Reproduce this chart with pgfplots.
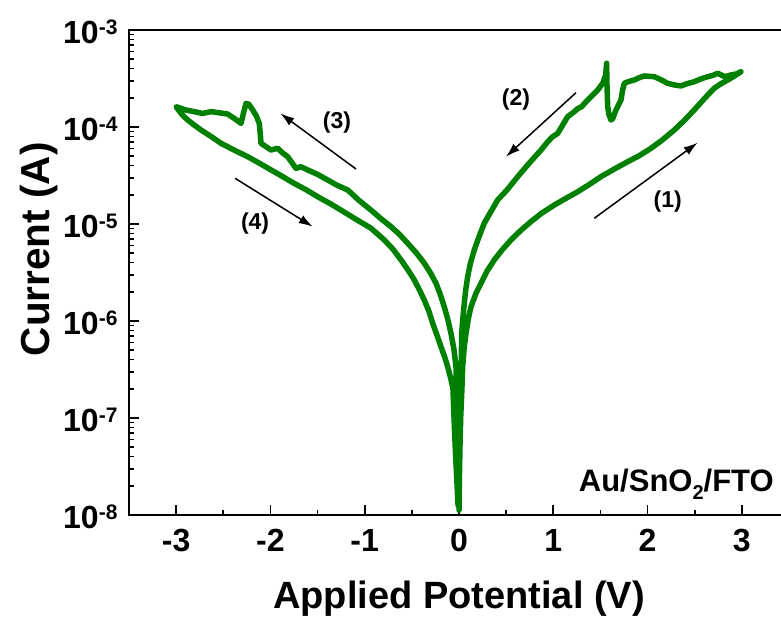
\documentclass[border=0pt]{standalone}
\usepackage{fontspec}
\setmainfont{Liberation Sans}
\usepackage{pgfplots}
\pgfplotsset{compat=1.18}
\usetikzlibrary{arrows.meta}
\definecolor{cgreen}{RGB}{0,128,0}
\newcommand\supx[1]{\raisebox{9.5pt}{\fontsize{21}{21}\selectfont #1}}
\newcommand\subx[1]{\raisebox{-8pt}{\fontsize{20}{20}\selectfont #1}}
\begin{document}
\begin{tikzpicture}
\begin{axis}[
  at={(0,0)}, anchor=south west,
  scale only axis, width=660pt, height=485pt,
  xmin=-3.5, xmax=3.5, ymode=log, ymin=1e-8, ymax=1e-3,
  xtick={-3,-2,-1,0,1,2,3},
  xticklabels={-3,-2,-1,0,1,2,3},
  minor xtick={-3.5,-2.5,-1.5,-0.5,0.5,1.5,2.5},
  ytick={1e-8,1e-7,1e-6,1e-5,1e-4,1e-3},
  yticklabels={10\supx{-8},10\supx{-7},10\supx{-6},10\supx{-5},10\supx{-4},10\supx{-3}},
  minor ytick={2e-8,3e-8,4e-8,5e-8,6e-8,7e-8,8e-8,9e-8,
               2e-7,3e-7,4e-7,5e-7,6e-7,7e-7,8e-7,9e-7,
               2e-6,3e-6,4e-6,5e-6,6e-6,7e-6,8e-6,9e-6,
               2e-5,3e-5,4e-5,5e-5,6e-5,7e-5,8e-5,9e-5,
               2e-4,3e-4,4e-4,5e-4,6e-4,7e-4,8e-4,9e-4},
  xtick pos=bottom, ytick pos=left,
  tick align=inside,
  major tick length=10pt, minor tick length=5.5pt,
  axis line style={line width=1.6pt},
  tick style={black, line width=1.6pt},
  minor tick style={black, line width=1.6pt},
  tick label style={font=\fontsize{32}{38}\selectfont\bfseries},
  xticklabel style={yshift=-11pt},
  yticklabel style={xshift=-8pt, yshift=-2pt},
  xlabel={Applied Potential (V)},
  ylabel={Current (A)},
  xlabel style={at={(axis description cs:0.5,-0.1918)}, anchor=base, font=\fontsize{38}{44}\selectfont\bfseries},
  ylabel style={at={(axis description cs:-0.1197,0.548)}, anchor=base, rotate=0, font=\fontsize{40.5}{46}\selectfont\bfseries},
]
\addplot[cgreen, line width=5.5pt, line join=round, line cap=round] coordinates {
% (1) 0 -> 3 V
(0.000,1.12e-8) (0.003,2.0e-8) (0.010,5.0e-8) (0.018,1.02e-7) (0.030,1.90e-7)
(0.039,3.38e-7) (0.055,5.3e-7) (0.074,7.46e-7) (0.100,1.07e-6) (0.127,1.40e-6)
(0.180,1.93e-6) (0.233,2.45e-6) (0.300,3.30e-6) (0.374,4.26e-6) (0.460,5.45e-6)
(0.551,6.84e-6) (0.650,8.5e-6) (0.764,1.06e-5) (0.880,1.30e-5) (1.011,1.57e-5)
(1.130,1.83e-5) (1.259,2.15e-5) (1.380,2.55e-5) (1.506,3.08e-5) (1.650,3.70e-5)
(1.789,4.39e-5) (1.910,5.05e-5) (2.036,6.03e-5) (2.160,7.4e-5) (2.283,9.31e-5)
(2.390,1.17e-4) (2.495,1.50e-4) (2.600,1.95e-4) (2.707,2.51e-4) (2.780,2.80e-4)
(2.849,3.05e-4) (2.930,3.40e-4) (2.990,3.72e-4)
% (2) 3 -> 0 V
(2.940,3.52e-4) (2.884,3.44e-4) (2.820,3.30e-4) (2.743,3.58e-4) (2.690,3.40e-4)
(2.637,3.30e-4) (2.560,3.12e-4) (2.495,2.93e-4) (2.420,2.80e-4) (2.354,2.65e-4)
(2.280,2.72e-4) (2.213,2.82e-4) (2.140,3.08e-4) (2.071,3.30e-4) (1.965,3.36e-4)
(1.910,3.22e-4) (1.859,3.05e-4) (1.800,2.95e-4) (1.753,2.82e-4) (1.735,2.40e-4)
(1.718,1.90e-4) (1.665,1.50e-4) (1.630,1.22e-4) (1.612,1.18e-4) (1.590,1.35e-4)
(1.577,1.62e-4) (1.568,3.00e-4) (1.566,4.54e-4) (1.555,3.40e-4) (1.524,2.82e-4)
(1.471,2.40e-4) (1.420,2.15e-4) (1.365,1.90e-4) (1.300,1.62e-4) (1.260,1.55e-4)
(1.223,1.44e-4) (1.153,1.28e-4) (1.100,1.05e-4) (1.047,8.61e-5) (0.990,7.9e-5)
(0.941,7.05e-5) (0.870,5.79e-5) (0.750,4.30e-5) (0.623,3.08e-5) (0.510,2.25e-5)
(0.410,1.77e-5) (0.330,1.30e-5) (0.268,1.02e-5) (0.210,7.3e-6) (0.162,5.40e-6)
(0.120,3.9e-6) (0.092,2.86e-6) (0.070,2.05e-6) (0.056,1.52e-6) (0.040,1.05e-6)
(0.029,7.46e-7)
% (3) 0 -> -3 V
(-0.003,1.3e-8) (-0.015,3.98e-8) (-0.025,1.20e-7) (-0.032,3.38e-7) (-0.055,5.2e-7)
(-0.085,7.46e-7) (-0.120,1.05e-6) (-0.156,1.40e-6) (-0.200,1.90e-6) (-0.244,2.45e-6)
(-0.300,3.10e-6) (-0.368,3.94e-6) (-0.450,5.0e-6) (-0.544,6.32e-6) (-0.630,7.8e-6)
(-0.721,9.38e-6) (-0.830,1.14e-5) (-0.933,1.39e-5) (-1.060,1.75e-5) (-1.180,2.24e-5)
(-1.290,2.50e-5) (-1.392,2.84e-5) (-1.500,3.25e-5) (-1.605,3.61e-5) (-1.680,3.90e-5)
(-1.729,3.75e-5) (-1.780,4.40e-5) (-1.817,4.94e-5) (-1.870,5.40e-5) (-1.923,6.03e-5)
(-1.994,5.79e-5) (-2.060,6.40e-5) (-2.100,6.79e-5) (-2.110,9.0e-5) (-2.118,1.09e-4)
(-2.150,1.30e-4) (-2.188,1.50e-4) (-2.230,1.72e-4) (-2.259,1.75e-4) (-2.285,1.40e-4)
(-2.312,1.09e-4) (-2.380,1.22e-4) (-2.453,1.36e-4) (-2.540,1.40e-4) (-2.630,1.44e-4)
(-2.720,1.38e-4) (-2.807,1.44e-4) (-2.900,1.50e-4) (-3.001,1.62e-4)
% (4) -3 -> 0 V
(-2.940,1.35e-4) (-2.877,1.18e-4) (-2.810,1.05e-4) (-2.736,9.31e-5) (-2.630,8.0e-5)
(-2.524,6.79e-5) (-2.380,5.75e-5) (-2.241,4.94e-5) (-2.120,4.25e-5) (-1.994,3.61e-5)
(-1.870,3.08e-5) (-1.747,2.62e-5) (-1.620,2.25e-5) (-1.498,1.91e-5) (-1.370,1.63e-5)
(-1.251,1.39e-5) (-1.100,1.13e-5) (-0.933,9.04e-6) (-0.792,6.84e-6) (-0.700,5.5e-6)
(-0.615,4.26e-6) (-0.540,3.35e-6) (-0.474,2.65e-6) (-0.420,2.10e-6) (-0.368,1.64e-6)
(-0.320,1.27e-6) (-0.279,9.46e-7) (-0.235,7.2e-7) (-0.191,5.43e-7) (-0.150,4.2e-7)
(-0.120,3.38e-7) (-0.085,2.5e-7) (-0.064,2.0e-7) (-0.053,1.02e-7) (-0.040,5.0e-8)
(-0.032,3.44e-8) (-0.010,1.26e-8)
};
\draw[black, line width=1.5pt, -{Latex[length=14pt,width=9pt]}] (axis cs:1.435,1.146e-5) -- (axis cs:2.531,6.89e-5);
\draw[black, line width=1.5pt, -{Latex[length=14pt,width=9pt]}] (axis cs:1.241,2.26e-4) -- (axis cs:0.498,4.94e-5);
\draw[black, line width=1.5pt, -{Latex[length=14pt,width=9pt]}] (axis cs:-1.092,3.69e-5) -- (axis cs:-1.895,1.38e-4);
\draw[black, line width=1.5pt, -{Latex[length=14pt,width=9pt]}] (axis cs:-2.375,2.96e-5) -- (axis cs:-1.551,9.38e-6);
\node[font=\fontsize{23}{28}\selectfont\bfseries] at (axis cs:2.213,1.70e-5) {(1)};
\node[font=\fontsize{23}{28}\selectfont\bfseries] at (axis cs:0.604,1.93e-4) {(2)};
\node[font=\fontsize{23}{28}\selectfont\bfseries] at (axis cs:-1.294,1.117e-4) {(3)};
\node[font=\fontsize{23}{28}\selectfont\bfseries] at (axis cs:-2.163,1.016e-5) {(4)};
\node[anchor=base east, inner sep=0pt, font=\fontsize{31}{36}\selectfont\bfseries] at (axis cs:3.34,1.73e-8) {Au/SnO\subx{2}/FTO};
\end{axis}
\pgfresetboundingbox
\useasboundingbox (-129pt,-101pt) rectangle (652pt,515pt);
\end{tikzpicture}
\end{document}
